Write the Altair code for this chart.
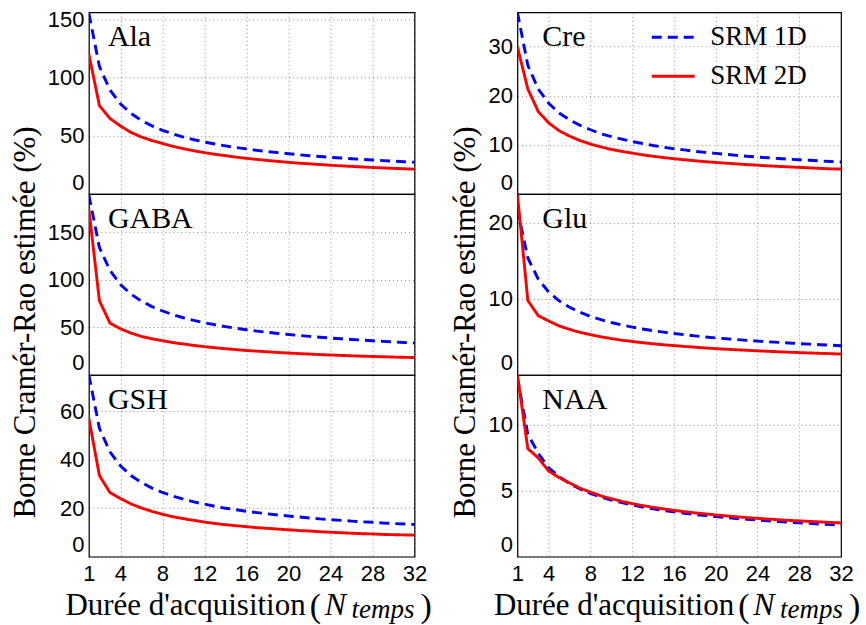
import altair as alt
import pandas as pd

N = list(range(1, 33))
SERIES = ["SRM 1D", "SRM 2D"]
X_TICKS = [1, 4, 8, 12, 16, 20, 24, 28, 32]
Y_TITLE = "Borne Cramér-Rao estimée (%)"

ala_1d = [155, 109.6, 89.5, 77.5, 69.3, 63.3, 58.6, 54.8, 51.7, 49.0, 46.7, 44.7, 43.0, 41.4, 40.0, 38.8,
          37.6, 36.5, 35.6, 34.7, 33.8, 33.0, 32.3, 31.6, 31.0, 30.4, 29.8, 29.3, 28.8, 28.3, 27.8, 27.4]
ala_2d = [120, 76, 65, 58.5, 53, 49, 46, 43.5, 41, 39, 37.2, 35.6, 34.2, 33, 31.8, 30.7,
          29.8, 28.9, 28.1, 27.3, 26.6, 26, 25.4, 24.8, 24.3, 23.8, 23.3, 22.9, 22.5, 22.1, 21.8, 21.4]
gaba_1d = [189, 134, 110, 95, 85, 77.6, 71.8, 67.2, 63.3, 60.1, 57.3, 54.8, 52.7, 50.8, 49.1, 47.5,
           46.1, 44.8, 43.6, 42.5, 41.5, 40.5, 39.6, 38.8, 38, 37.3, 36.6, 35.9, 35.3, 34.7, 34.1, 33.6]
gaba_2d = [174, 78, 54.5, 48.5, 44, 40.5, 38, 36, 34, 32.5, 31, 29.7, 28.6, 27.5, 26.6, 25.7,
           25, 24.3, 23.6, 23, 22.4, 21.9, 21.4, 20.9, 20.5, 20.1, 19.7, 19.4, 19.1, 18.8, 18.5, 18.3]
gsh_1d = [75, 53, 43.3, 37.5, 33.5, 30.6, 28.3, 26.5, 25, 23.7, 22.6, 21.7, 20.8, 20, 19.4, 18.75,
          18.2, 17.7, 17.2, 16.8, 16.4, 16, 15.6, 15.3, 15, 14.7, 14.4, 14.2, 13.9, 13.7, 13.5, 13.3]
gsh_2d = [57, 33.5, 26.5, 24, 21.8, 20.1, 18.7, 17.5, 16.5, 15.7, 15, 14.3, 13.7, 13.2, 12.8, 12.4,
          12, 11.7, 11.4, 11.1, 10.8, 10.6, 10.3, 10.1, 9.9, 9.7, 9.5, 9.4, 9.2, 9.1, 9, 8.9]
cre_1d = [37, 26.2, 21.4, 18.5, 16.5, 15.1, 14, 13.1, 12.3, 11.7, 11.2, 10.7, 10.3, 9.9, 9.55, 9.25,
          9, 8.7, 8.5, 8.3, 8.1, 7.9, 7.7, 7.55, 7.4, 7.25, 7.1, 7, 6.9, 6.75, 6.65, 6.55]
cre_2d = [30, 21.4, 16.8, 14.5, 12.9, 11.8, 10.9, 10.2, 9.6, 9.1, 8.7, 8.35, 8, 7.7, 7.45, 7.2,
          7, 6.8, 6.6, 6.45, 6.3, 6.15, 6, 5.9, 5.75, 5.65, 5.55, 5.45, 5.35, 5.25, 5.15, 5.1]
glu_1d = [21.8, 15.4, 12.6, 10.9, 9.75, 8.9, 8.25, 7.7, 7.27, 6.9, 6.57, 6.3, 6.05, 5.83, 5.63, 5.45,
          5.29, 5.14, 5, 4.87, 4.76, 4.65, 4.55, 4.45, 4.36, 4.28, 4.2, 4.12, 4.05, 3.98, 3.92, 3.85]
glu_2d = [23.8, 9.8, 7.8, 7.1, 6.45, 6, 5.6, 5.3, 5.02, 4.78, 4.57, 4.4, 4.24, 4.1, 3.97, 3.86,
          3.75, 3.65, 3.55, 3.46, 3.38, 3.31, 3.24, 3.17, 3.11, 3.05, 2.99, 2.94, 2.89, 2.84, 2.8, 2.75]
naa_1d = [13.6, 9.3, 7.85, 6.75, 6.08, 5.55, 5.14, 4.8, 4.53, 4.3, 4.1, 3.93, 3.77, 3.63, 3.51, 3.4,
          3.3, 3.2, 3.12, 3.04, 2.97, 2.9, 2.84, 2.78, 2.72, 2.67, 2.62, 2.57, 2.53, 2.48, 2.44, 2.4]
naa_2d = [13.8, 8.2, 7.5, 6.5, 6, 5.6, 5.2, 4.9, 4.62, 4.4, 4.2, 4.03, 3.88, 3.75, 3.63, 3.52,
          3.42, 3.33, 3.25, 3.17, 3.1, 3.03, 2.97, 2.91, 2.86, 2.81, 2.76, 2.72, 2.68, 2.64, 2.6, 2.57]

left_panels = [
    ("Ala", ala_1d, ala_2d, 156, [0, 50, 100, 150]),
    ("GABA", gaba_1d, gaba_2d, 190, [0, 50, 100, 150]),
    ("GSH", gsh_1d, gsh_2d, 75, [0, 20, 40, 60]),
]
right_panels = [
    ("Cre", cre_1d, cre_2d, 37, [0, 10, 20, 30]),
    ("Glu", glu_1d, glu_2d, 23.8, [0, 10, 20]),
    ("NAA", naa_1d, naa_2d, 13.8, [0, 5, 10]),
]

HEIGHTS = [182, 181, 182]
SERIF = "Liberation Serif"
SANS = "Liberation Sans"


def one(text):
    return pd.DataFrame({"t": [text]})


def panel(name, s1, s2, ymax, yticks, row, width, label_dx):
    df = pd.DataFrame({
        "N": N + N,
        "v": s1 + s2,
        "serie": [SERIES[0]] * len(N) + [SERIES[1]] * len(N),
    })
    bottom = row == 2
    xaxis = alt.Axis(values=X_TICKS, labels=bottom, title=None, grid=True,
                     labelFlush=False, labelPadding=7)
    ykw = dict(values=yticks, grid=True, labelFlush=True, labelPadding=5)
    if row == 1:
        ykw.update(title=Y_TITLE, titleY=128, titleFont=SERIF, titleFontSize=31,
                   titleFontWeight="normal", titlePadding=6, titleColor="black")
    else:
        ykw.update(title=None)
    lines = alt.Chart(df).mark_line(strokeWidth=2.9, clip=True).encode(
        x=alt.X("N:Q", scale=alt.Scale(domain=[1, 32], nice=False, zero=False), axis=xaxis),
        y=alt.Y("v:Q", scale=alt.Scale(domain=[0, ymax], nice=False, zero=True), axis=alt.Axis(**ykw)),
        color=alt.Color("serie:N", scale=alt.Scale(domain=SERIES, range=["#0000ff", "#ff0000"]), title=None),
        strokeDash=alt.StrokeDash("serie:N", scale=alt.Scale(domain=SERIES, range=[[10, 6], [1, 0]]), title=None),
    )
    label = alt.Chart(one(name)).mark_text(font=SERIF, fontSize=30, align="left",
                                           baseline="alphabetic", color="black").encode(
        x=alt.value(label_dx), y=alt.value(34), text="t:N")
    layers = [lines, label]
    if bottom:
        h = HEIGHTS[row]
        base_y = h + 58
        layers += [
            alt.Chart(one("Durée d'acquisition")).mark_text(font=SERIF, fontSize=31, align="right",
                                                          baseline="alphabetic", color="black").encode(
                x=alt.value(217), y=alt.value(base_y), text="t:N"),
            alt.Chart(one("(")).mark_text(font=SERIF, fontSize=34, align="left",
                                          baseline="alphabetic", color="black").encode(
                x=alt.value(221), y=alt.value(base_y + 2), text="t:N"),
            alt.Chart(one("N")).mark_text(font=SERIF, fontSize=32, fontStyle="italic", align="left",
                                          baseline="alphabetic", color="black").encode(
                x=alt.value(236), y=alt.value(base_y), text="t:N"),
            alt.Chart(one("temps")).mark_text(font=SERIF, fontSize=27, fontStyle="italic", align="left",
                                              baseline="alphabetic", color="black").encode(
                x=alt.value(263), y=alt.value(base_y + 3), text="t:N"),
            alt.Chart(one(")")).mark_text(font=SERIF, fontSize=34, align="left",
                                          baseline="alphabetic", color="black").encode(
                x=alt.value(332), y=alt.value(base_y + 2), text="t:N"),
        ]
    return alt.layer(*layers).properties(width=width, height=HEIGHTS[row])


cells = []
for i in range(3):
    cells.append(panel(*left_panels[i], row=i, width=326, label_dx=19))
    cells.append(panel(*right_panels[i], row=i, width=324, label_dx=25))

chart = alt.concat(*cells, columns=2, spacing={"row": 0, "column": 103}, bounds="flush").properties(
    padding={"left": 8, "top": 7, "right": 5, "bottom": 3}
).configure_view(
    stroke="black", strokeWidth=1.2
).configure_axis(
    labelFont=SANS, labelFontSize=22, labelColor="black", domain=False, ticks=False,
    gridColor="#000000", gridDash=[1, 3], gridOpacity=0.45, gridWidth=1,
).configure_legend(
    orient="none", legendX=562, legendY=2, symbolType="stroke", symbolSize=1849,
    symbolStrokeWidth=3, labelFont=SERIF, labelFontSize=27, labelColor="black",
    labelOffset=14, rowPadding=3, padding=0,
)

chart.save("out.html", embed_options={"renderer": "svg", "actions": False})
